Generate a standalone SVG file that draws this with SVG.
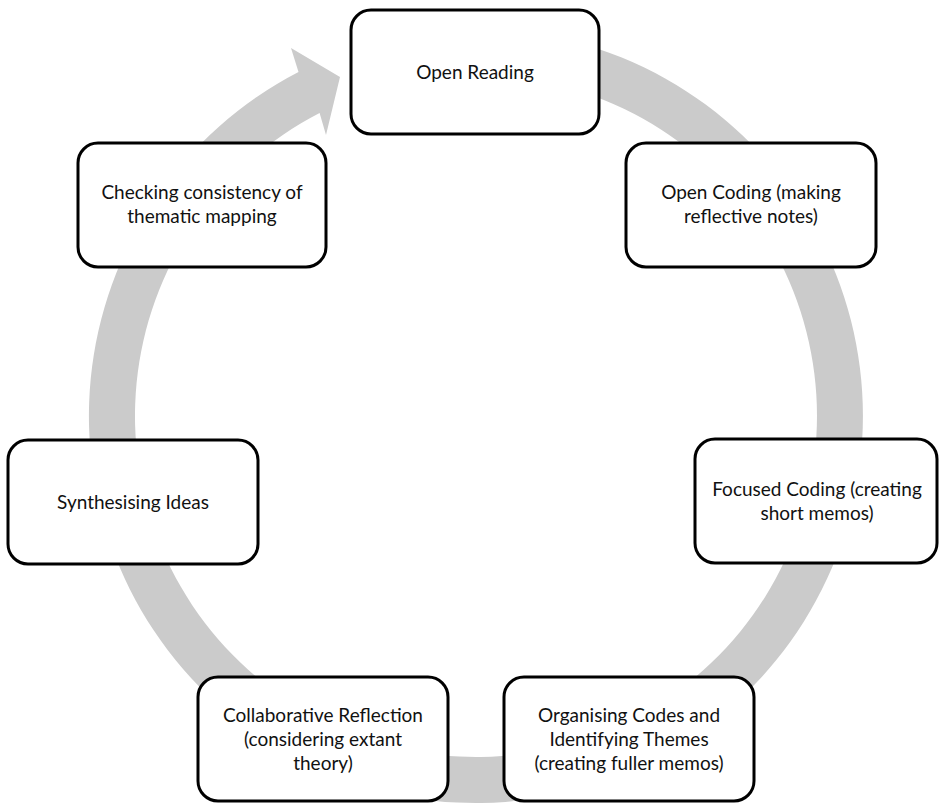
<svg xmlns="http://www.w3.org/2000/svg" width="939" height="804" viewBox="0 0 939 804">
<style>
.box{fill:#fff;stroke:#000;stroke-width:3}
.lbl{font-family:Lato,"Liberation Sans",sans-serif;font-size:19px;fill:#111;text-anchor:middle}
.band{fill:#cbcbcb}
</style>
<rect width="939" height="804" fill="#fff"/>
<g id="connectors">
<path class="band" d="M408.8,34.9 A387,387 0 1 1 298.5,72.1 L291,48 L340,77 L326,135 L319.6,113 A341,341 0 1 0 416.8,80.2 Z"/>
</g>
<g id="open-reading">
<rect class="box" x="351" y="10" width="248" height="124" rx="20"/>
<text class="lbl" x="475" y="79">Open Reading</text>
</g>
<g id="open-coding">
<rect class="box" x="626" y="143" width="250" height="124" rx="20"/>
<text class="lbl" x="751" y="199">Open Coding (making</text>
<text class="lbl" x="751" y="223">reflective notes)</text>
</g>
<g id="focused-coding">
<rect class="box" x="695" y="439" width="242" height="124" rx="20"/>
<text class="lbl" x="817" y="496">Focused Coding (creating</text>
<text class="lbl" x="817" y="520">short memos)</text>
</g>
<g id="organising-codes">
<rect class="box" x="504" y="677" width="250" height="124" rx="20"/>
<text class="lbl" x="629" y="722">Organising Codes and</text>
<text class="lbl" x="629" y="746">Identifying Themes</text>
<text class="lbl" x="629" y="770">(creating fuller memos)</text>
</g>
<g id="collaborative-reflection">
<rect class="box" x="198" y="677" width="250" height="124" rx="20"/>
<text class="lbl" x="323" y="722">Collaborative Reflection</text>
<text class="lbl" x="323" y="746">(considering extant</text>
<text class="lbl" x="323" y="770">theory)</text>
</g>
<g id="synthesising-ideas">
<rect class="box" x="8" y="440" width="250" height="124" rx="20"/>
<text class="lbl" x="133" y="509">Synthesising Ideas</text>
</g>
<g id="checking-consistency">
<rect class="box" x="78" y="143" width="248" height="124" rx="20"/>
<text class="lbl" x="202" y="199">Checking consistency of</text>
<text class="lbl" x="202" y="223">thematic mapping</text>
</g>
</svg>
